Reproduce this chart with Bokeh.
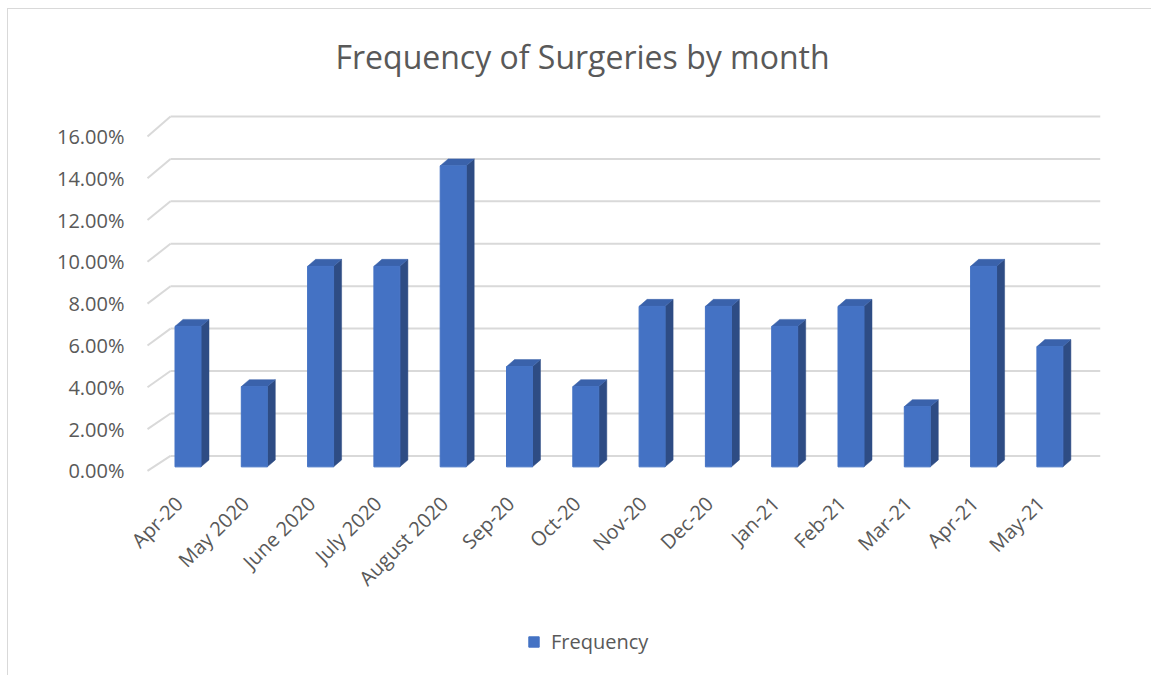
from bokeh.plotting import figure
from bokeh.models import Range1d, LinearAxis, FixedTicker, PrintfTickFormatter, Legend, LegendItem
from bokeh.embed import file_html
from bokeh.resources import INLINE

# ---------------- data ----------------
months = ["Apr-20", "May 2020", "June 2020", "July 2020", "August 2020", "Sep-20", "Oct-20",
          "Nov-20", "Dec-20", "Jan-21", "Feb-21", "Mar-21", "Apr-21", "May-21"]
frequency = [6.67, 3.81, 9.52, 9.52, 14.29, 4.76, 3.81, 7.62, 7.62, 6.67, 7.62, 2.86, 9.52, 5.71]
y_ticks = [0, 2, 4, 6, 8, 10, 12, 14, 16]
series_name = "Frequency"
title_text = "Frequency of Surgeries by month"

# ---------------- geometry / style ----------------
W, H = 1144, 667
FL, FR, FT, FB = 120, 1092, 91, 667          # frame edges in canvas px
FLOOR_L = 139                                # canvas px of the floor's front-left corner
AXIS_PX = 471                                # canvas px where the category axis sits
PX_CAT, PX_PCT = 66.3, 21.1                  # px per category / per percent (bar plane)
X0_PX, Y0_PX = 179.5, 457                    # canvas px of first bar centre / bar zero
LAB0, LAB_PX = 461, 20.94                    # y-label plane
BACK0, BACK_PX = 446, 21.25                  # back wall plane
x0, x1 = (FL - X0_PX) / PX_CAT, (FR - X0_PX) / PX_CAT
y0, y1 = (Y0_PX - FB) / PX_PCT, (Y0_PX - FT) / PX_PCT

TXT = "#595959"
GRID = "#d9d9d9"
FRONT, SIDE, TOP = "#4472c4", "#2e4c84", "#3a62ab"
FONT = "Open Sans"

p = figure(width=W, height=H, output_backend="svg", toolbar_location=None,
           x_range=Range1d(x0, x1), y_range=Range1d(y0, y1),
           x_axis_location=None, y_axis_location=None,
           min_border_left=FL, min_border_right=W - FR,
           min_border_top=FT, min_border_bottom=0)
p.outline_line_color = None
p.xgrid.visible = False
p.ygrid.visible = False
p.background_fill_color = "white"
p.border_fill_color = "white"
p.styles = {"margin-left": "7px", "margin-top": "8px",
            "border-left": "1px solid #d9d9d9", "border-top": "1px solid #d9d9d9"}

# extra ranges for axis labels (3-D floor offsets)
lab_shift_x = -9 / PX_CAT
p.extra_x_ranges = {"xlab": Range1d(x0 - lab_shift_x, x1 - lab_shift_x)}
p.extra_y_ranges = {"ylab": Range1d((LAB0 - FB) / LAB_PX, (LAB0 - FT) / LAB_PX)}

# ---------------- 3-D gridlines ----------------
front_left_x = (FLOOR_L - X0_PX) / PX_CAT
back_left_x = (FLOOR_L + 23 - X0_PX) / PX_CAT
def back_v(t):
    return (Y0_PX - BACK0 + BACK_PX * t) / PX_PCT
def front_v(t):
    return (Y0_PX - LAB0 + LAB_PX * t) / PX_PCT

p.segment(x0=[back_left_x] * len(y_ticks), y0=[back_v(t) for t in y_ticks],
          x1=[x1] * len(y_ticks), y1=[back_v(t) for t in y_ticks],
          line_color=GRID, line_width=2)
p.segment(x0=[front_left_x] * len(y_ticks), y0=[front_v(t) for t in y_ticks],
          x1=[back_left_x] * len(y_ticks), y1=[back_v(t) for t in y_ticks],
          line_color=GRID, line_width=2)

# ---------------- 3-D bars ----------------
idx = list(range(len(months)))
bw = 26 / PX_CAT
dx = 8 / PX_CAT
dy = 7 / PX_PCT

side_xs = [[i + bw / 2, i + bw / 2 + dx, i + bw / 2 + dx, i + bw / 2] for i in idx]
side_ys = [[0, dy, v + dy, v] for v in frequency]
top_xs = [[i - bw / 2, i + bw / 2, i + bw / 2 + dx, i - bw / 2 + dx] for i in idx]
top_ys = [[v, v, v + dy, v + dy] for v in frequency]

p.patches(side_xs, side_ys, fill_color=SIDE, line_color=SIDE, line_width=0.5)
p.patches(top_xs, top_ys, fill_color=TOP, line_color=TOP, line_width=0.5)
front = p.vbar(x=idx, top=frequency, bottom=0, width=bw, fill_color=FRONT, line_color=FRONT)

# ---------------- axes ----------------
yax = LinearAxis(y_range_name="ylab", ticker=FixedTicker(ticks=y_ticks),
                 formatter=PrintfTickFormatter(format="%.2f%%"))
yax.axis_line_color = None
yax.major_tick_line_color = None
yax.minor_tick_line_color = None
yax.major_tick_out = 0
yax.major_label_standoff = 4
yax.major_label_text_font = FONT
yax.major_label_text_font_size = "20px"
yax.major_label_text_color = TXT
p.add_layout(yax, "left")

xax = LinearAxis(x_range_name="xlab", ticker=FixedTicker(ticks=idx),
                 major_label_overrides={i: m for i, m in zip(idx, months)},
                 fixed_location=(Y0_PX - AXIS_PX) / PX_PCT)
xax.axis_line_color = None
xax.major_tick_line_color = None
xax.minor_tick_line_color = None
xax.major_tick_out = 0
xax.major_label_standoff = 19
xax.major_label_orientation = 0.785398
xax.major_label_text_font = FONT
xax.major_label_text_font_size = "20px"
xax.major_label_text_color = TXT
p.add_layout(xax, "below")

# ---------------- legend ----------------
legend = Legend(items=[LegendItem(label=series_name, renderers=[front])],
                orientation="horizontal", location=(519 - FL, 21),
                border_line_color=None, background_fill_alpha=0,
                glyph_width=13, glyph_height=13, label_standoff=11,
                padding=0, margin=0, spacing=0)
legend.label_text_font = FONT
legend.label_text_font_size = "20px"
legend.label_text_color = TXT
p.add_layout(legend, "center")

# ---------------- title ----------------
p.title.text = title_text
p.title.align = "left"
p.title.offset = 327 - FL
p.title.text_font = FONT
p.title.text_font_size = "32px"
p.title.text_font_style = "normal"
p.title.text_color = TXT
p.title.standoff = 47

open("out.html", "w").write(file_html(p, INLINE))
